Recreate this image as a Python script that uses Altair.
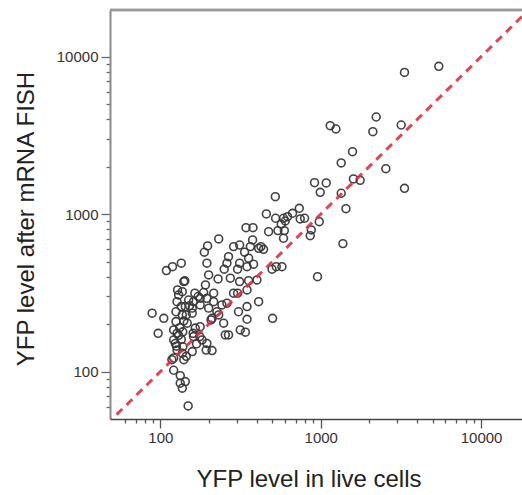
import altair as alt
import pandas as pd

# YFP fluorescence of single cells: live imaging (x) vs. after mRNA FISH (y)
live_yfp = [
    3330, 5450, 1146, 1244, 2218, 2114, 3175, 1578, 1342, 2547,
    1600, 1762, 3330, 915, 1082, 993, 1342, 1436, 1375, 955,
    979, 873, 860, 793, 735, 667, 745, 521, 458, 523,
    586, 621, 601, 567, 541, 593, 586, 473, 342, 378,
    424, 440, 410, 376, 364, 312, 286, 231, 197, 335,
    355, 381, 347, 312, 266, 260, 250, 195, 200, 303,
    273, 229, 191, 186, 195, 215, 215, 177, 164, 161,
    150, 140, 137, 127, 135, 143, 158, 177, 125, 137,
    145, 158, 200, 225, 231, 210, 242, 260, 286, 303,
    312, 355, 400, 347, 410, 307, 347, 347, 315, 339,
    266, 248, 254, 501, 497, 528, 573, 88.8, 105, 96.8,
    109, 119, 135, 142, 188, 125, 121, 121, 127, 138,
    138, 124, 127, 121, 137, 140, 158, 161, 165, 176,
    182, 193, 210, 195, 177, 147, 121, 133, 133, 143,
    137, 149, 118, 160, 207, 130, 128, 130, 135, 126,
    132, 140, 145, 168, 152, 172,
]
fish_yfp = [
    7950, 8690, 3648, 3475, 4140, 3340, 3684, 2494, 2114, 1945,
    1673, 1641, 1460, 1585, 1578, 1377, 1358, 1084, 650, 401,
    896, 794, 730, 942, 1090, 1013, 933, 1292, 1003, 942,
    942, 964, 905, 863, 786, 786, 703, 774, 821, 821,
    622, 598, 607, 686, 622, 637, 622, 696, 628, 573,
    525, 481, 464, 488, 537, 488, 447, 488, 411, 447,
    392, 388, 355, 318, 292, 315, 278, 292, 315, 278,
    285, 373, 322, 278, 259, 259, 253, 265, 240, 229,
    229, 235, 253, 240, 229, 218, 265, 272, 315, 315,
    373, 378, 382, 330, 278, 240, 259, 215, 184, 178,
    171, 203, 171, 218, 447, 464, 464, 235, 218, 175,
    438, 464, 488, 377, 573, 208, 184, 159, 175, 179,
    144, 151, 137, 122, 131, 119, 134, 167, 189, 167,
    159, 137, 136, 151, 193, 203, 102, 94.3, 84.4, 86.4,
    78.5, 60.5, 119, 175, 213, 307, 330, 170, 160, 145,
    190, 210, 125, 150, 262, 300,
]

# identity line y = x
diagonal = [40, 30000]

x_ticks = [60, 70, 80, 90, 100, 200, 300, 400, 500, 600, 700, 800, 900,
           1000, 2000, 3000, 4000, 5000, 6000, 7000, 8000, 9000, 10000]
y_ticks = [60, 70, 80, 90, 100, 200, 300, 400, 500, 600, 700, 800, 900,
           1000, 2000, 3000, 4000, 5000, 6000, 7000, 8000, 9000, 10000]
decades = "datum.value == 100 || datum.value == 1000 || datum.value == 10000"

cells = pd.DataFrame({"live": live_yfp, "fish": fish_yfp})
line_df = pd.DataFrame({"v": diagonal})

FONT = "Liberation Sans"

x_scale = alt.Scale(type="log", domain=[48.5, 18000], nice=False)
y_scale = alt.Scale(type="log", domain=[50, 19800], nice=False)

x_axis = alt.Axis(
    title="YFP level in live cells",
    values=x_ticks, format="d", labelExpr=f"{decades} ? datum.label : ''",
    tickSize={"condition": {"test": decades, "value": 9}, "value": 4},
    labelOverlap=False, grid=False,
    domainColor="#444444", domainWidth=1.5, tickColor="#555555", tickWidth=1.3,
    labelFont=FONT, labelFontSize=15, labelColor="#333333", labelPadding=2,
    titleFont=FONT, titleFontSize=24, titleFontWeight="normal", titleColor="#222222",
    titleX=198.5, titleY=67, titleAlign="center", titleBaseline="alphabetic",
)
y_axis = alt.Axis(
    title="YFP level after mRNA FISH",
    values=y_ticks, format="d", labelExpr=f"{decades} ? datum.label : ''",
    tickSize={"condition": {"test": decades, "value": 9}, "value": 4},
    labelOverlap=False, grid=False,
    domainColor="#8a8a8a", domainWidth=2, tickColor="#666666", tickWidth=1.3,
    labelFont=FONT, labelFontSize=15, labelColor="#333333", labelPadding=3,
    titleFont=FONT, titleFontSize=24, titleFontWeight="normal", titleColor="#222222",
    titleX=-77, titleY=208.5, titleAngle=270, titleAlign="center",
    titleBaseline="alphabetic",
)

points = alt.Chart(cells).mark_point(
    shape="circle", filled=False, size=62, strokeWidth=1.6,
    color="#383838", opacity=0.95,
).encode(
    x=alt.X("live:Q", scale=x_scale, axis=x_axis),
    y=alt.Y("fish:Q", scale=y_scale, axis=y_axis),
)

diag = alt.Chart(line_df).mark_line(
    clip=True, color="#dc3243", strokeWidth=3, strokeDash=[8, 6], opacity=0.9,
).encode(
    x=alt.X("v:Q", scale=x_scale),
    y=alt.Y("v:Q", scale=y_scale),
)

# upper frame line
top_border = alt.Chart(line_df).mark_rule(color="#9a9a9a", strokeWidth=2.5).encode(
    x=alt.value(0), x2=alt.value(412), y=alt.value(0)
)

chart = alt.layer(points, diag, top_border).properties(
    width=412, height=409,
    autosize=alt.AutoSizeParams(type="none"),
    padding={"left": 110, "top": 10, "right": 0, "bottom": 76},
    background="white",
).configure_view(stroke=None)

chart.save("out.html", embed_options={"renderer": "svg", "actions": False})
